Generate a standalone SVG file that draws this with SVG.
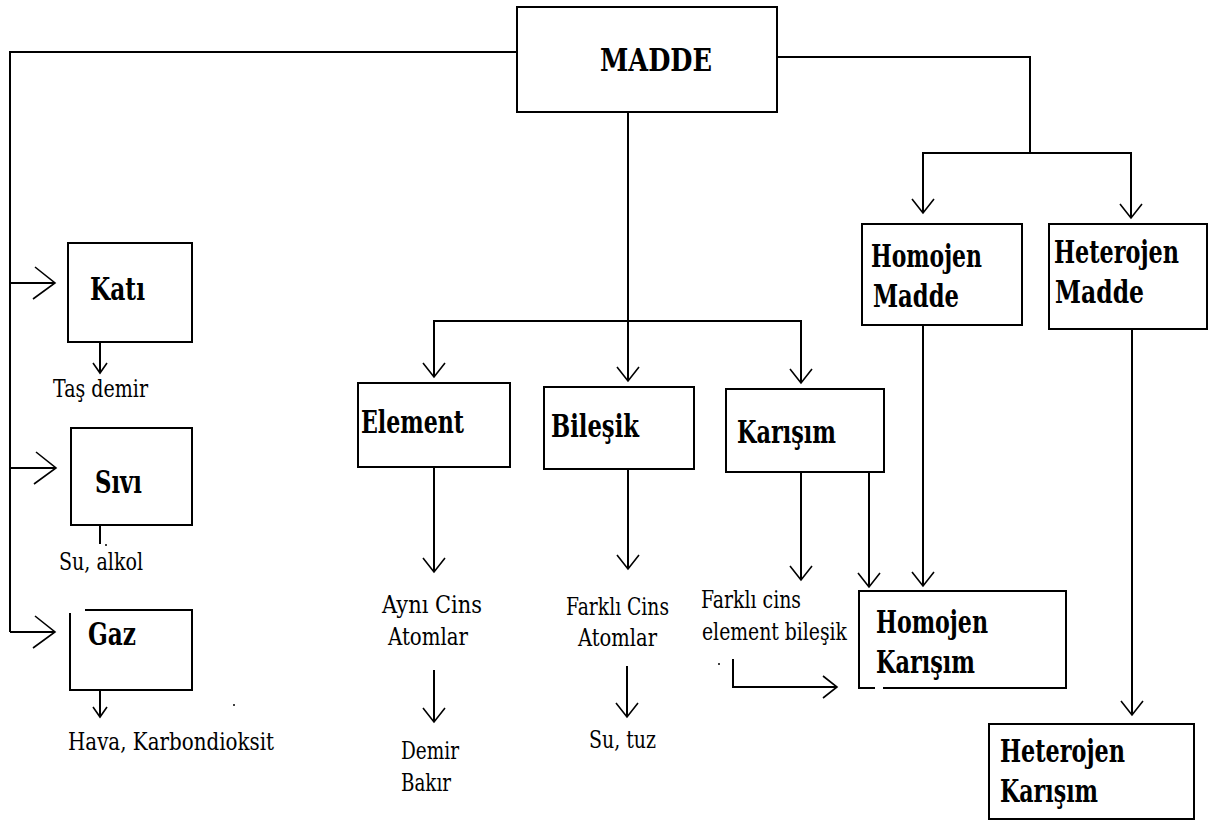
<svg xmlns="http://www.w3.org/2000/svg" width="1215" height="821" viewBox="0 0 1215 821">
<style>
.box{fill:#fff;stroke:#000;stroke-width:2}
.ln{fill:none;stroke:#000;stroke-width:2}
text{font-family:"DejaVu Serif","Liberation Serif",serif;fill:#000}
.b{font-weight:bold;font-size:31px}
.r{font-weight:normal;font-size:24px}
</style>
<defs>
<marker id="a" markerUnits="userSpaceOnUse" markerWidth="40" markerHeight="40" refX="0" refY="0" orient="auto" overflow="visible" viewBox="-20 -20 40 40">
<path d="M-14,-11 L0,0 L-14,11" fill="none" stroke="#000" stroke-width="1.6"/>
</marker>
<marker id="s" markerUnits="userSpaceOnUse" markerWidth="40" markerHeight="40" refX="0" refY="0" orient="auto" overflow="visible" viewBox="-20 -20 40 40">
<path d="M-10,-7 L0,0 L-10,7" fill="none" stroke="#000" stroke-width="1.6"/>
</marker>
<marker id="L" markerUnits="userSpaceOnUse" markerWidth="50" markerHeight="50" refX="0" refY="0" orient="auto" overflow="visible" viewBox="-25 -25 50 50">
<path d="M-20,-16 L0,0 L-22,16" fill="none" stroke="#000" stroke-width="1.6"/>
</marker>
</defs>

<g id="connectors">
<path class="ln" d="M517,52 H10 V632"/>
<path class="ln" d="M10,283 H55" marker-end="url(#L)"/>
<path class="ln" d="M10,468 H56" marker-end="url(#L)"/>
<path class="ln" d="M10,632 H55" marker-end="url(#L)"/>
<path class="ln" d="M100,342 V373" marker-end="url(#s)"/>
<path class="ln" d="M100,525 V544"/>
<circle cx="106" cy="545" r="1" fill="#000"/>
<path class="ln" d="M100,690 V717" marker-end="url(#s)"/>
<circle cx="234" cy="705" r="1" fill="#000"/>
<path class="ln" d="M628,112 V381" marker-end="url(#a)"/>
<path class="ln" d="M434,377 V321 H801 V383" marker-end="url(#a)"/>
<path class="ln" d="M434,321 V377" marker-end="url(#a)"/>
<path class="ln" d="M777,57 H1030 V153"/>
<path class="ln" d="M923,213 V153 H1131 V218" marker-end="url(#a)"/>
<path class="ln" d="M923,153 V213" marker-end="url(#a)"/>
<path class="ln" d="M434,468 V572" marker-end="url(#a)"/>
<path class="ln" d="M434,670 V722" marker-end="url(#a)"/>
<path class="ln" d="M628,469 V569" marker-end="url(#a)"/>
<path class="ln" d="M627,666 V717" marker-end="url(#a)"/>
<path class="ln" d="M801,472 V580" marker-end="url(#a)"/>
<path class="ln" d="M869,472 V587" marker-end="url(#a)"/>
<path class="ln" d="M923,325 V586" marker-end="url(#a)"/>
<path class="ln" d="M1132,329 V715" marker-end="url(#a)"/>
<path class="ln" d="M733,659 V687 H837" marker-end="url(#a)"/>
<circle cx="719" cy="664" r="1" fill="#000"/>
</g>

<g id="madde">
<rect class="box" x="517" y="7" width="260" height="105"/>
<text class="b" x="600" y="71" textLength="112" lengthAdjust="spacingAndGlyphs">MADDE</text>
</g>

<g id="kati">
<rect class="box" x="68" y="243" width="124" height="99"/>
<text class="b" x="90" y="300" textLength="55" lengthAdjust="spacingAndGlyphs">Katı</text>
<text class="r" x="53" y="397" textLength="95" lengthAdjust="spacingAndGlyphs">Taş demir</text>
</g>

<g id="sivi">
<rect class="box" x="71" y="428" width="121" height="97"/>
<text class="b" x="95" y="493" textLength="47" lengthAdjust="spacingAndGlyphs">Sıvı</text>
<text class="r" x="59" y="570" textLength="84" lengthAdjust="spacingAndGlyphs">Su, alkol</text>
</g>

<g id="gaz">
<path class="ln" d="M85,610 H192 V690 H70 V613"/>
<text class="b" x="88" y="645" textLength="48" lengthAdjust="spacingAndGlyphs">Gaz</text>
<text class="r" x="68" y="750" textLength="206" lengthAdjust="spacingAndGlyphs">Hava, Karbondioksit</text>
</g>

<g id="element">
<rect class="box" x="358" y="383" width="152" height="84"/>
<text class="b" x="361" y="433" textLength="103" lengthAdjust="spacingAndGlyphs">Element</text>
<text class="r" x="382" y="613" textLength="100" lengthAdjust="spacingAndGlyphs">Aynı Cins</text>
<text class="r" x="388" y="645" textLength="80" lengthAdjust="spacingAndGlyphs">Atomlar</text>
<text class="r" x="401" y="759" textLength="58" lengthAdjust="spacingAndGlyphs">Demir</text>
<text class="r" x="401" y="791" textLength="50" lengthAdjust="spacingAndGlyphs">Bakır</text>
</g>

<g id="bilesik">
<rect class="box" x="544" y="387" width="150" height="82"/>
<text class="b" x="551" y="437" textLength="88" lengthAdjust="spacingAndGlyphs">Bileşik</text>
<text class="r" x="566" y="615" textLength="103" lengthAdjust="spacingAndGlyphs">Farklı Cins</text>
<text class="r" x="578" y="646" textLength="79" lengthAdjust="spacingAndGlyphs">Atomlar</text>
<text class="r" x="589" y="748" textLength="67" lengthAdjust="spacingAndGlyphs">Su, tuz</text>
</g>

<g id="karisim">
<rect class="box" x="726" y="389" width="158" height="83"/>
<text class="b" x="737" y="443" textLength="99" lengthAdjust="spacingAndGlyphs">Karışım</text>
<text class="r" x="701" y="608" textLength="100" lengthAdjust="spacingAndGlyphs">Farklı cins</text>
<text class="r" x="702" y="640" textLength="145" lengthAdjust="spacingAndGlyphs">element bileşik</text>
</g>

<g id="homojen-madde">
<rect class="box" x="862" y="224" width="160" height="101"/>
<text class="b" x="871" y="267" textLength="111" lengthAdjust="spacingAndGlyphs">Homojen</text>
<text class="b" x="873" y="307" textLength="86" lengthAdjust="spacingAndGlyphs">Madde</text>
</g>

<g id="heterojen-madde">
<rect class="box" x="1049" y="224" width="158" height="105"/>
<text class="b" transform="scale(0.7,1)" x="1505.7" y="263" textLength="178.6" lengthAdjust="spacingAndGlyphs">Heterojen</text>
<text class="b" x="1055" y="303" textLength="89" lengthAdjust="spacingAndGlyphs">Madde</text>
</g>

<g id="homojen-karisim">
<path class="ln" d="M875,688 H859 V591 H1066 V688 H883"/>
<text class="b" x="876" y="633" textLength="112" lengthAdjust="spacingAndGlyphs">Homojen</text>
<text class="b" x="876" y="673" textLength="99" lengthAdjust="spacingAndGlyphs">Karışım</text>
</g>

<g id="heterojen-karisim">
<rect class="box" x="989" y="724" width="205" height="95"/>
<text class="b" x="1000" y="762" textLength="125" lengthAdjust="spacingAndGlyphs">Heterojen</text>
<text class="b" x="1000" y="802" textLength="98" lengthAdjust="spacingAndGlyphs">Karışım</text>
</g>
</svg>
